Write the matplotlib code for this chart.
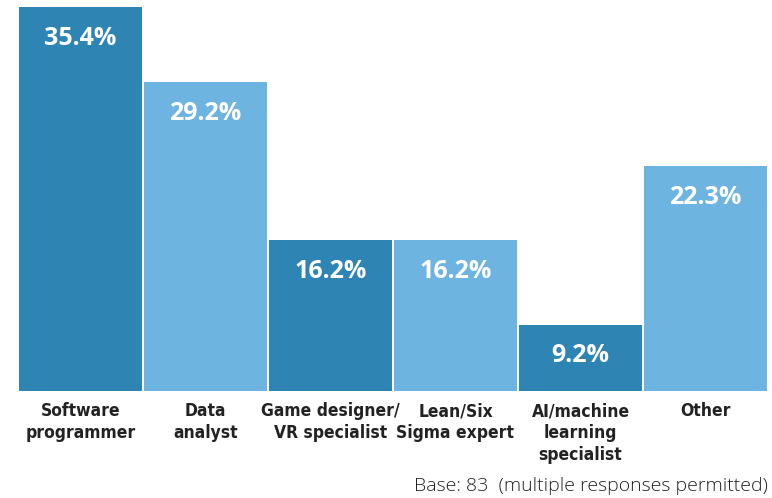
import matplotlib
matplotlib.use("Agg")
import matplotlib.pyplot as plt
from matplotlib import font_manager

# data
categories = ["Software\nprogrammer", "Data\nanalyst", "Game designer/\nVR specialist",
              "Lean/Six\nSigma expert", "AI/machine\nlearning\nspecialist", "Other"]
values = [35.4, 29.2, 16.2, 16.2, 9.2, 22.3]
value_labels = ["35.4%", "29.2%", "16.2%", "16.2%", "9.2%", "22.3%"]
footnote = "Base: 83  (multiple responses permitted)"

dark_blue = "#2E84B2"
light_blue = "#6EB4E0"
bar_colors = [dark_blue, light_blue, dark_blue, light_blue, dark_blue, light_blue]

# condensed face for the category labels
cond_prop = font_manager.FontProperties(family="DejaVu Sans", weight="bold",
                                        stretch="condensed", size=12.5)

fig = plt.figure(figsize=(7.72, 4.98), dpi=100)
ax = fig.add_axes([18 / 772, 1 - 391 / 498, 750 / 772, 391 / 498])

x = list(range(len(values)))
ax.bar(x, values, width=0.98, color=bar_colors)

# the original axis does not start at zero
ax.set_xlim(-0.5, len(values) - 0.5)
ax.set_ylim(3.76, 35.98)

for xi, v, lab in zip(x, values, value_labels):
    ax.annotate(lab, (xi, v), xytext=(0, -31), textcoords="offset pixels",
                ha="center", va="center", color="white", fontsize=18,
                fontweight="bold", family=["Open Sans", "DejaVu Sans"])

for xi, cat in zip(x, categories):
    ax.annotate(cat, (xi, 3.76), xytext=(0, -11), textcoords="offset pixels",
                ha="center", va="top", color="#222222", linespacing=1.3,
                fontproperties=cond_prop)

for s in ax.spines.values():
    s.set_visible(False)
ax.set_xticks([])
ax.set_yticks([])

fig.text(768 / 772, 1 - 486 / 498, footnote, ha="right", va="center",
         fontsize=14, color="#222222", fontweight="light",
         family=["Open Sans", "DejaVu Sans"])

fig.savefig("out.png", dpi=100, facecolor="white")
